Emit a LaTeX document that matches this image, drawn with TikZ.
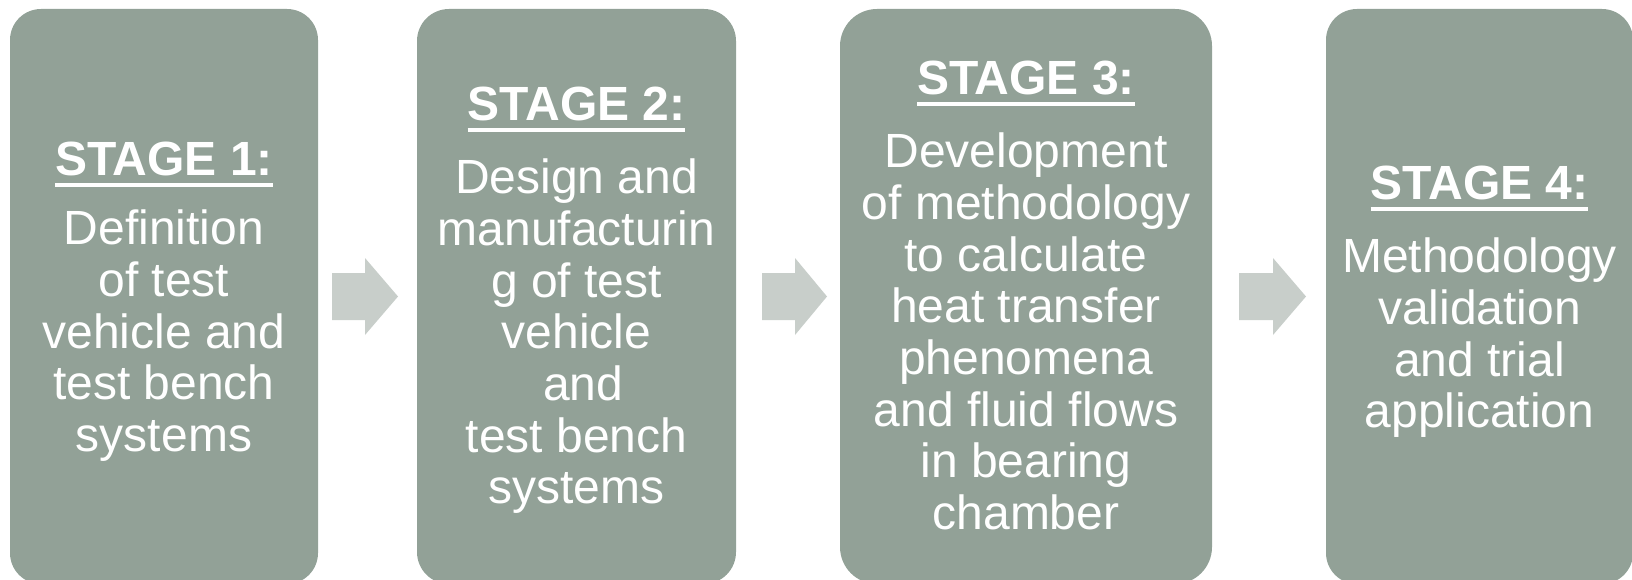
\documentclass[tikz,border=0pt]{standalone}
\usepackage{fontspec}
\setmainfont{Liberation Sans}
\definecolor{boxfill}{RGB}{146,161,151}
\definecolor{arrowfill}{RGB}{200,206,202}
\newcommand{\stagehead}[1]{\setbox0\hbox{\bfseries #1}\rlap{\rule[-11pt]{\wd0}{3.8pt}}\box0}
\tikzset{
  stagebox/.style={fill=boxfill, draw=none, inner sep=0pt},
  stagetext/.style={text=white, anchor=base, inner sep=0pt, font=\fontsize{48}{51.7}\selectfont},
  blockarrow/.style={fill=arrowfill, draw=none}
}
\begin{document}
\begin{tikzpicture}[x=1pt,y=1pt]
\useasboundingbox (0,0) rectangle (1632,-580);
\clip (0,0) rectangle (1632,-580);
\node[stagebox, minimum width=308pt, minimum height=575pt, rounded corners=31pt] (b1) at (164,-296.5) {};
\node[stagebox, minimum width=319pt, minimum height=575pt, rounded corners=32pt] (b2) at (576.5,-296.5) {};
\node[stagebox, minimum width=372pt, minimum height=575pt, rounded corners=37pt] (b3) at (1026,-296.5) {};
\node[stagebox, minimum width=307pt, minimum height=575pt, rounded corners=31pt] (b4) at (1479.5,-296.5) {};

\node[stagetext] (t1) at (164,-176) {\begin{tabular}[t]{@{}c@{}}\stagehead{STAGE 1:}\\[17pt]Definition\\of test\\vehicle and\\test bench\\systems\end{tabular}};
\node[stagetext] (t2) at (576.5,-121) {\begin{tabular}[t]{@{}c@{}}\stagehead{STAGE 2:}\\[21pt]Design and\\manufacturin\\g of test\\vehicle\\\ and\\test bench\\systems\end{tabular}};
\node[stagetext] (t3) at (1026,-95) {\begin{tabular}[t]{@{}c@{}}\stagehead{STAGE 3:}\\[21pt]Development\\of methodology\\to calculate\\heat transfer\\phenomena\\and fluid flows\\in bearing\\chamber\end{tabular}};
\node[stagetext] (t4) at (1479.5,-200) {\begin{tabular}[t]{@{}c@{}}\stagehead{STAGE 4:}\\[21pt]Methodology\\validation\\and trial\\application\end{tabular}};

\fill[blockarrow] (332,-273) -- (365,-273) -- (365,-258) -- (398,-296.5) -- (365,-335) -- (365,-320) -- (332,-320) -- cycle;
\fill[blockarrow] (762,-273) -- (795,-273) -- (795,-258) -- (827,-296.5) -- (795,-335) -- (795,-320) -- (762,-320) -- cycle;
\fill[blockarrow] (1239,-273) -- (1273,-273) -- (1273,-258) -- (1306,-296.5) -- (1273,-335) -- (1273,-320) -- (1239,-320) -- cycle;
\end{tikzpicture}
\end{document}
